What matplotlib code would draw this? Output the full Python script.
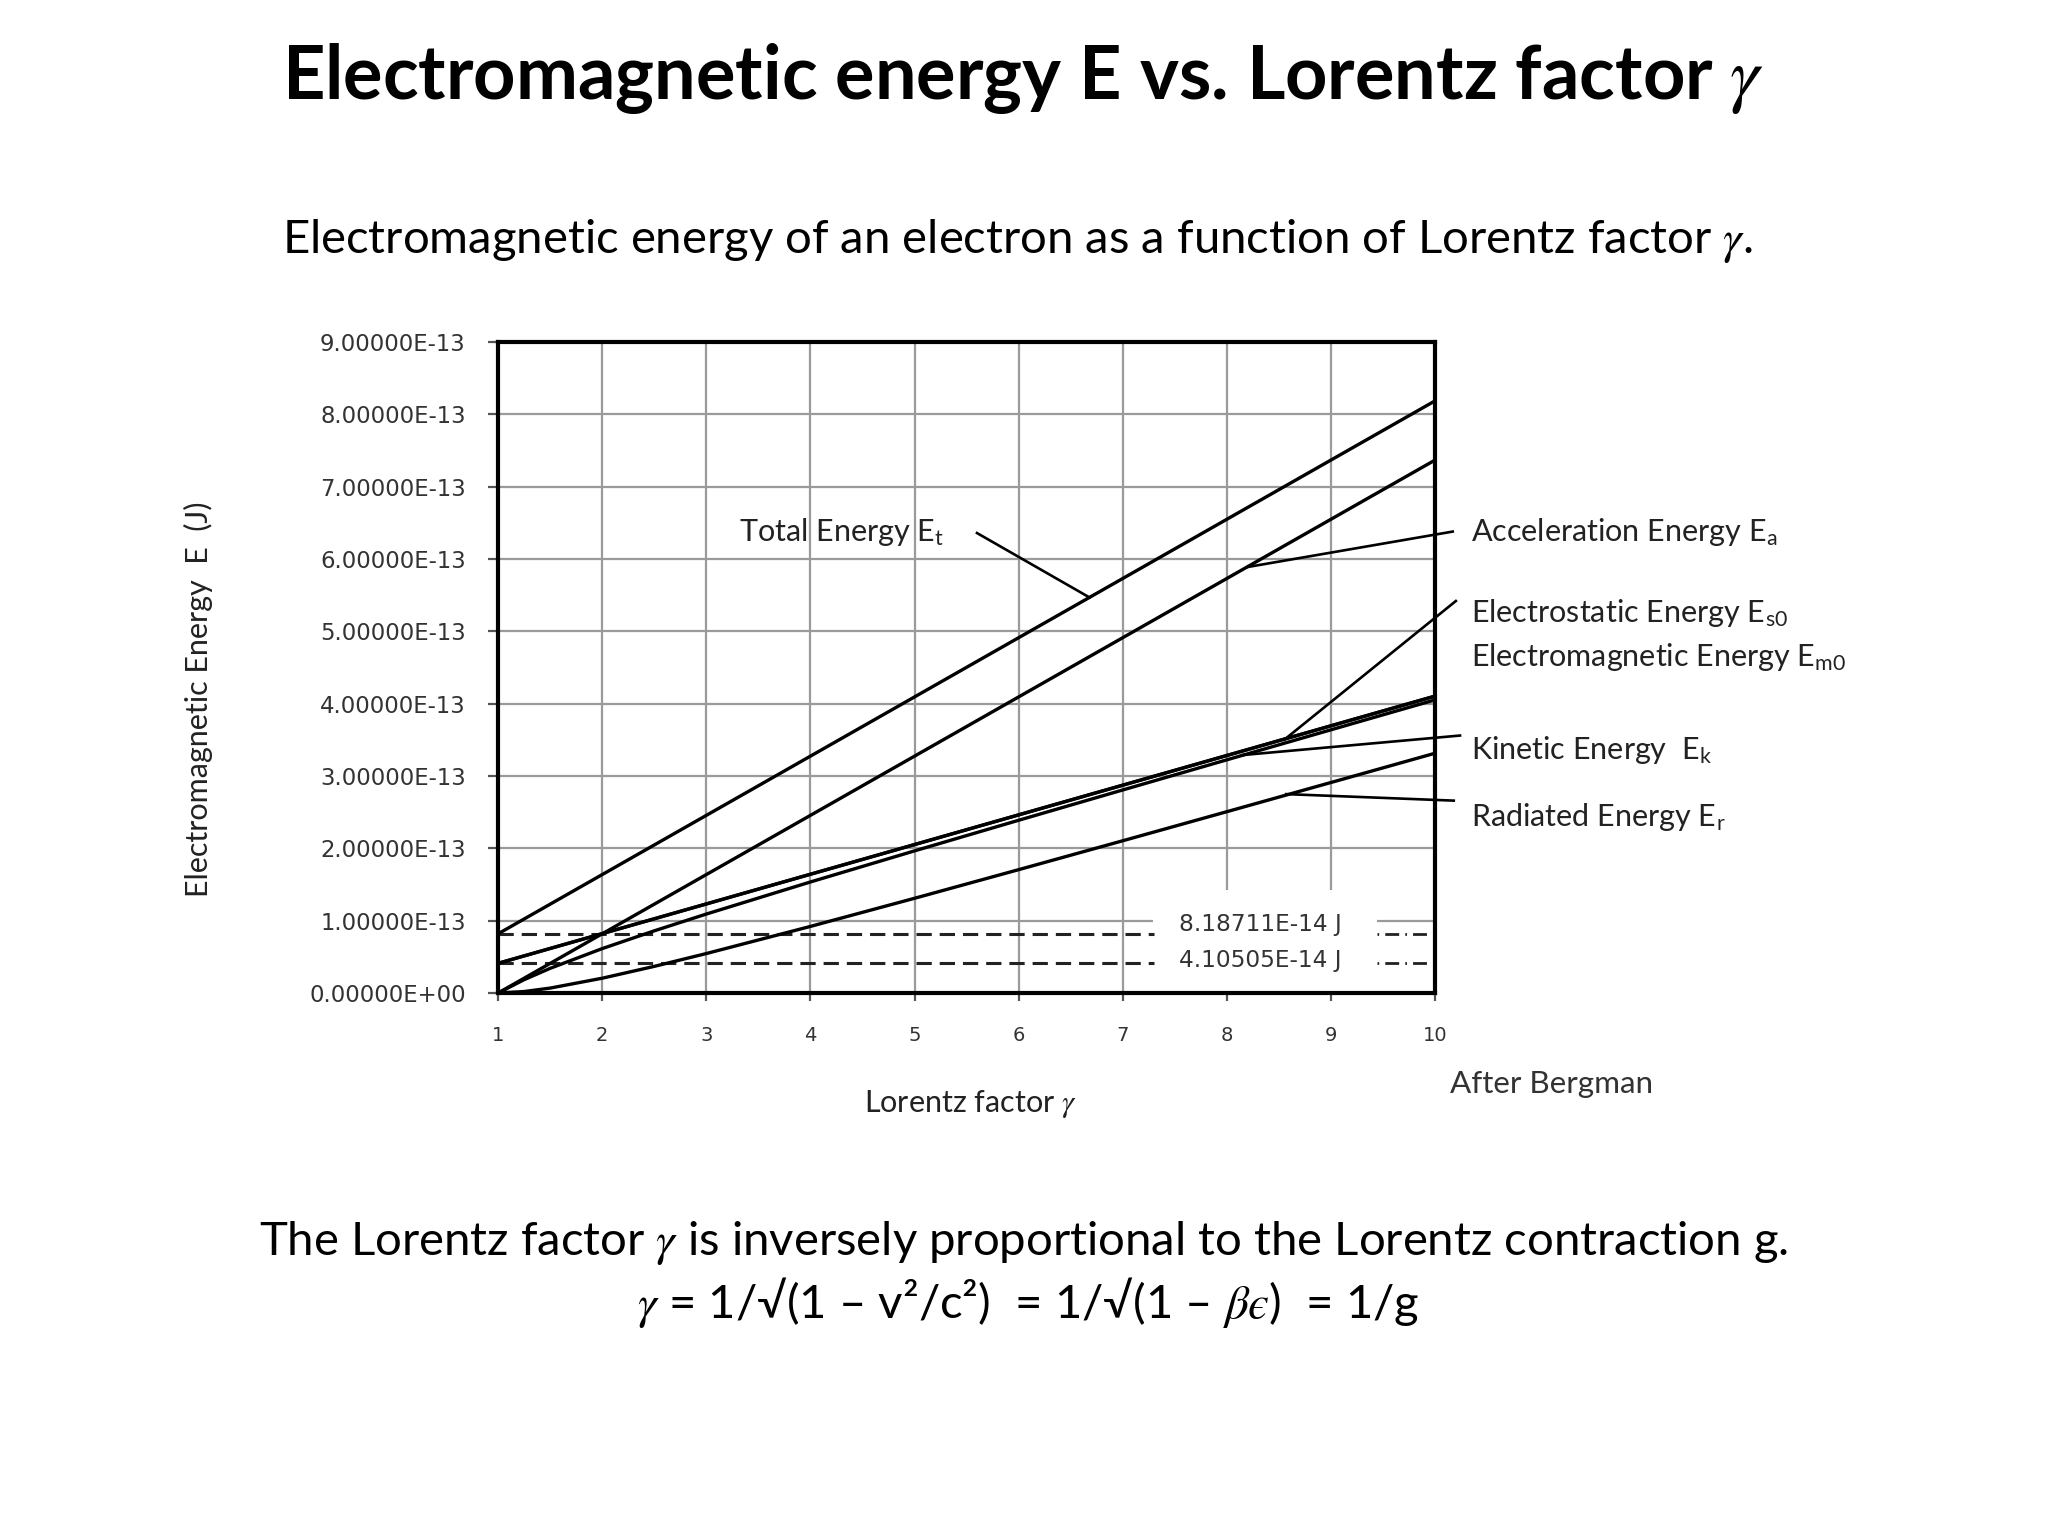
import matplotlib
matplotlib.use("Agg")
import numpy as np
import matplotlib.pyplot as plt
from matplotlib.patches import Rectangle
from matplotlib.ticker import FuncFormatter

plt.rcParams['mathtext.fontset'] = 'custom'
plt.rcParams['mathtext.rm'] = 'Lato'
plt.rcParams['mathtext.it'] = 'STIXGeneral:italic'
plt.rcParams['mathtext.bf'] = 'Lato:bold'
plt.rcParams['mathtext.fallback'] = 'stix'
plt.rcParams['font.family'] = ['Lato', 'DejaVu Sans']

UNIT = 1e-13  # values below are in units of 1e-13 J

# ---- data ----
gamma = [1, 2, 3, 4, 5, 6, 7, 8, 9, 10]
total_energy = [0.8187, 1.6374, 2.4561, 3.2748, 4.0936, 4.9123, 5.7310, 6.5497, 7.3684, 8.1871]
acceleration_energy = [0.0, 0.8187, 1.6374, 2.4561, 3.2748, 4.0936, 4.9123, 5.7310, 6.5497, 7.3684]
electrostatic_energy = [0.4105, 0.8210, 1.2315, 1.6420, 2.0525, 2.4630, 2.8735, 3.2840, 3.6945, 4.1050]
electromagnetic_energy = [0.4105, 0.8210, 1.2315, 1.6420, 2.0525, 2.4630, 2.8735, 3.2840, 3.6945, 4.1050]

gamma_fine = [1, 1.25, 1.5, 2, 2.5, 3, 4, 5, 6, 7, 8, 9, 10]
kinetic_energy = [0.0, 0.1842, 0.3412, 0.6141, 0.8597, 1.0917, 1.5353, 1.9651, 2.3882, 2.8073, 3.2240, 3.6391, 4.0531]
radiated_energy = [0.0, 0.0205, 0.0682, 0.2046, 0.3684, 0.5457, 0.9208, 1.3097, 1.7054, 2.1050, 2.5070, 2.9106, 3.3153]

rest_energy_levels = [0.818711, 0.410505]
rest_energy_labels = ["8.18711E-14 J", "4.10505E-14 J"]

x_ticks = [1, 2, 3, 4, 5, 6, 7, 8, 9, 10]
y_ticks = [0, 1, 2, 3, 4, 5, 6, 7, 8, 9]

def J(v):
    return np.asarray(v, dtype=float) * UNIT

fig = plt.figure(figsize=(10.24, 7.68), dpi=200)
fig.patch.set_facecolor('white')
ax = fig.add_axes([0.2432, 0.3535, 0.4575, 0.4238])

LW = 1.2
for yv in (total_energy, acceleration_energy, electrostatic_energy, electromagnetic_energy):
    ax.plot(gamma, J(yv), color='black', lw=LW, zorder=5, solid_capstyle='butt')
ax.plot(gamma_fine, J(kinetic_energy), color='black', lw=LW, zorder=5)
ax.plot(gamma_fine, J(radiated_energy), color='black', lw=LW, zorder=5)

# rest energy reference lines
for lvl in rest_energy_levels:
    ax.plot([1, 7.3], [lvl * UNIT] * 2, color='#222222', lw=1.1, ls=(0, (5, 2.6)), zorder=3)
    ax.plot([9.44, 10], [lvl * UNIT] * 2, color='#222222', lw=1.0, ls=(0, (0.6, 2.2, 5, 2.2)), zorder=3)

# white box behind the reference labels
ax.add_patch(Rectangle((7.29, 0), 2.15, 1.42 * UNIT, facecolor='white', edgecolor='none', zorder=2))
label_y = [0.95, 0.45]
for ly, lab in zip(label_y, rest_energy_labels):
    ax.text(7.54, ly * UNIT, lab, fontsize=8.4, family='DejaVu Sans', color='#333333',
            va='center', ha='left', zorder=6)

ax.set_xlim(1, 10)
ax.set_ylim(0, 9 * UNIT)
ax.set_xticks(x_ticks)
ax.set_yticks([v * UNIT for v in y_ticks])
ax.yaxis.set_major_formatter(FuncFormatter(lambda v, p: f"{v:.5E}"))
ax.grid(True, color='#9a9a9a', lw=0.8, zorder=1)
ax.set_axisbelow(True)
for s in ax.spines.values():
    s.set_linewidth(1.5)
    s.set_color('black')
    s.set_zorder(7)
ax.tick_params(axis='y', direction='out', length=3.6, width=0.8, color='#555555',
               pad=8, labelsize=8.2, labelcolor='#333333', labelfontfamily='DejaVu Sans')
ax.tick_params(axis='x', direction='out', length=3.0, width=0.8, color='#555555',
               pad=9, labelsize=7, labelcolor='#333333', labelfontfamily='DejaVu Sans')

# labels inside / beside the plot
lab_kw = dict(fontsize=11, color='#222222', va='center', ha='left', clip_on=False, zorder=8)
ax.text(3.31, 6.38 * UNIT, r"Total Energy E$_\mathrm{t}$", **lab_kw)
ax.text(10.35, 6.38 * UNIT, r"Acceleration Energy E$_\mathrm{a}$", **lab_kw)
ax.text(10.35, 5.26 * UNIT, r"Electrostatic Energy E$_\mathrm{s0}$", **lab_kw)
ax.text(10.35, 4.64 * UNIT, r"Electromagnetic Energy E$_\mathrm{m0}$", **lab_kw)
ax.text(10.35, 3.36 * UNIT, r"Kinetic Energy  E$_\mathrm{k}$", **lab_kw)
ax.text(10.35, 2.44 * UNIT, r"Radiated Energy E$_\mathrm{r}$", **lab_kw)

pointers = [
    ((5.60, 6.36), (6.68, 5.47)),
    ((10.17, 6.38), (8.20, 5.89)),
    ((10.20, 5.42), (8.55, 3.50)),
    ((10.24, 3.56), (8.15, 3.29)),
    ((10.18, 2.66), (8.57, 2.75)),
]
for (x0, y0), (x1, y1) in pointers:
    ax.plot([x0, x1], [y0 * UNIT, y1 * UNIT], color='black', lw=0.95, clip_on=False, zorder=8)

# axis titles and notes
fig.text(0.097, 0.545, "Electromagnetic Energy  E  (J)", rotation=90, fontsize=11,
         color='#222222', ha='center', va='center')
fig.text(0.474, 0.281, r"Lorentz factor $\gamma$", fontsize=11, color='#222222',
         ha='center', va='center')
fig.text(0.708, 0.294, "After Bergman", fontsize=11.3, color='#333333', ha='left', va='center')

# title / subtitle / footer
fig.text(0.4995, 0.949, r"Electromagnetic energy E vs. Lorentz factor $\gamma$", fontsize=26.6,
         fontweight='bold', color='black', ha='center', va='center')
fig.text(0.497, 0.843, r"Electromagnetic energy of an electron as a function of Lorentz factor $\gamma$.",
         fontsize=17, color='black', ha='center', va='center')
fig.text(0.5, 0.191, r"The Lorentz factor $\gamma$ is inversely proportional to the Lorentz contraction g.",
         fontsize=17, color='black', ha='center', va='center')
fig.text(0.502, 0.152, r"$\gamma$ = 1/√(1 – v²/c²)  = 1/√(1 – $\betaϵ$)  = 1/g",
         fontsize=17, color='black', ha='center', va='center')

fig.savefig("out.png", dpi=200, facecolor='white')
